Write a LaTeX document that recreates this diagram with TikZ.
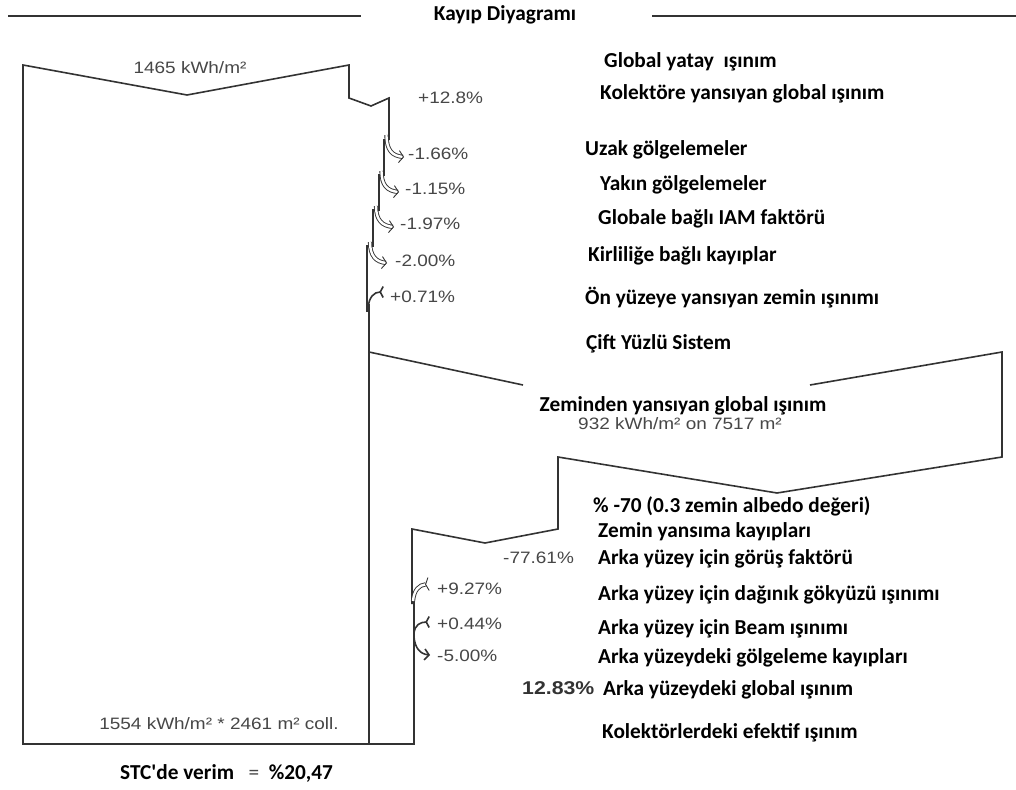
\documentclass[tikz,border=0pt]{standalone}
\usepackage{fontspec}
\setmainfont{Carlito}
\newfontfamily\pctfont[FakeStretch=1.15]{Liberation Sans}
\usetikzlibrary{arrows.meta}
\definecolor{flowgray}{HTML}{333333}
\definecolor{pctgray}{HTML}{474747}

\tikzset{
  flow/.style={draw=flowgray, line width=1.6pt, line join=miter},
  lbl/.style={anchor=west, inner sep=0pt, font=\fontsize{21.3}{25}\selectfont\bfseries, text=black},
  pct/.style={anchor=west, inner sep=0pt, font=\pctfont\fontsize{16.5}{20}\selectfont, text=pctgray},
  lossarrow/.style={draw=flowgray, line width=0.9pt, double=white, double distance=2.4pt,
    -{Straight Barb[length=4.5pt,width=12pt]}},
  gainarrow/.style={draw=flowgray, line width=1.6pt,
    -{Straight Barb[reversed,length=3pt,width=11pt]}},
  gaindouble/.style={draw=flowgray, line width=0.9pt, double=white, double distance=2.4pt,
    -{Straight Barb[reversed,length=3pt,width=13pt]}}
}

\begin{document}
\begin{tikzpicture}[x=1pt,y=-1pt]
\useasboundingbox (0,0) rectangle (1016,789);
\fill[white] (0,0) rectangle (1016,789);

% title
\draw[flowgray, line width=1.6pt] (8,16) -- (361,16);
\draw[flowgray, line width=1.6pt] (652,16) -- (1016,16);
\node[lbl, anchor=center] (title) at (505,15) {Kayıp Diyagramı};

% front side column
\draw[flow] (389,140) -- (389,98) -- (371,106) -- (349,98) -- (349,65) -- (187,95)
  -- (23,65) -- (23,744) -- (414,744) -- (414,598);
\draw[flow] (384,139) -- (384,176);
\draw[flow] (379,174) -- (379,211);
\draw[flow] (373,209) -- (373,247);
\draw[flow] (367,245) -- (367,312);
\draw[flow] (369,304) -- (369,744);

% front losses and gains
\draw[lossarrow] (386.5,135) .. controls (386.5,150) and (392,156) .. (404,157);
\draw[lossarrow] (381.5,171) .. controls (381.5,185) and (387,191) .. (399,192);
\draw[lossarrow] (376,206) .. controls (376,220) and (382,226) .. (394,227);
\draw[lossarrow] (370,242) .. controls (370,256) and (376,262) .. (387,263);
\draw[gainarrow] (368,308) .. controls (369,297) and (374,292) .. (384,292);

% rear side
\draw[flow] (369,352) -- (523,385);
\draw[flow] (810,385) -- (1002,352) -- (1002,457) -- (777,493) -- (558,457)
  -- (558,529) -- (485,543) -- (412,529) -- (412,604);
\draw[gaindouble] (413,601) .. controls (414,590) and (419,585) .. (429,584);
\draw[gainarrow] (414,633) .. controls (415,625) and (420,622) .. (430,622);
\draw[gainarrow, -{Straight Barb[length=4.5pt,width=11pt]}] (414,637) .. controls (415,648) and (420,654) .. (430,655);

% values
\node[pct, anchor=center] (ghi) at (190,68) {1465 kWh/m²};
\node[pct] (p1) at (418,98) {+12.8\%};
\node[pct] (p2) at (408,154) {-1.66\%};
\node[pct] (p3) at (405,189) {-1.15\%};
\node[pct] (p4) at (400,224) {-1.97\%};
\node[pct] (p5) at (395,261) {-2.00\%};
\node[pct] (p6) at (390,297) {+0.71\%};
\node[pct, anchor=center] (gnd) at (680,424) {932 kWh/m² on 7517 m²};
\node[pct] (p7) at (503,558) {-77.61\%};
\node[pct] (p8) at (437,589) {+9.27\%};
\node[pct] (p9) at (437,624) {+0.44\%};
\node[pct] (p10) at (437,656) {-5.00\%};
\node[pct, font=\pctfont\fontsize{18.5}{22}\selectfont\bfseries, text=flowgray] (p11) at (522,688) {12.83\%};
\node[pct, anchor=center] (eff) at (219,724) {1554 kWh/m² * 2461 m² coll.};

% descriptions
\node[lbl] (l1) at (604,62) {Global yatay\ \ ışınım};
\node[lbl] (l2) at (600,94) {Kolektöre yansıyan global ışınım};
\node[lbl] (l3) at (585,150) {Uzak gölgelemeler};
\node[lbl] (l4) at (600,185) {Yakın gölgelemeler};
\node[lbl] (l5) at (598,219) {Globale bağlı IAM faktörü};
\node[lbl] (l6) at (588,256) {Kirliliğe bağlı kayıplar};
\node[lbl] (l7) at (585,298) {Ön yüzeye yansıyan zemin ışınımı};
\node[lbl] (l8) at (586,344) {Çift Yüzlü Sistem};
\node[lbl, anchor=center] (l9) at (683,406) {Zeminden yansıyan global ışınım};
\node[lbl] (l10) at (593,506) {\% -70 (0.3 zemin albedo değeri)};
\node[lbl] (l11) at (598,532) {Zemin yansıma kayıpları};
\node[lbl] (l12) at (598,559) {Arka yüzey için görüş faktörü};
\node[lbl] (l13) at (598,595) {Arka yüzey için dağınık gökyüzü ışınımı};
\node[lbl] (l14) at (598,629) {Arka yüzey için Beam ışınımı};
\node[lbl] (l15) at (598,658) {Arka yüzeydeki gölgeleme kayıpları};
\node[lbl] (l16) at (603,690) {Arka yüzeydeki global ışınım};
\node[lbl] (l17) at (602,733) {Kolektörlerdeki efektif ışınım};
\node[lbl] (stc) at (120,773) {STC\textquotesingle de verim \ \ {\mdseries\color{pctgray}=}\ \ \%20,47};
\end{tikzpicture}
\end{document}
